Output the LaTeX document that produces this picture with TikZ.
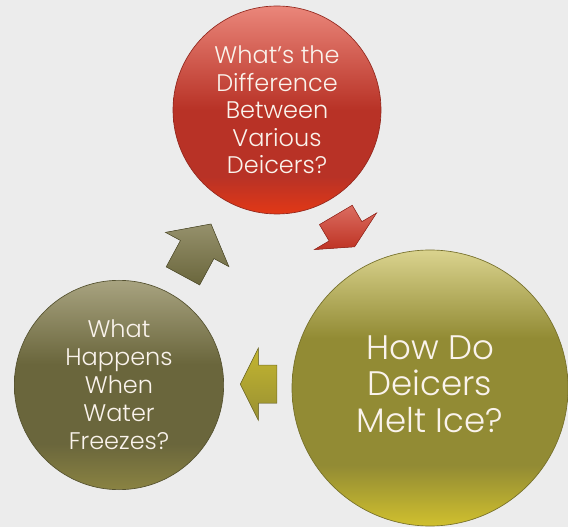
\documentclass[tikz,border=0pt]{standalone}
\usepackage{fontspec}
\IfFontExistsTF{Poppins Light}{\setmainfont{Poppins Light}}{\setmainfont{Poppins}}
\usetikzlibrary{positioning}

\definecolor{paper}{RGB}{236,236,236}
\definecolor{cream}{RGB}{250,243,236}
\definecolor{redtop}{RGB}{234,134,122}
\definecolor{redmid}{RGB}{184,50,38}
\definecolor{redbot}{RGB}{226,56,22}
\definecolor{yeltop}{RGB}{218,211,142}
\definecolor{yelmid}{RGB}{146,139,52}
\definecolor{yelbot}{RGB}{208,192,46}
\definecolor{olvtop}{RGB}{168,163,128}
\definecolor{olvmid}{RGB}{106,102,60}
\definecolor{olvbot}{RGB}{138,131,66}

% vertical shadings, bottom (25bp) to top (75bp)
\pgfdeclareverticalshading{redshade}{100bp}{color(0bp)=(redbot); color(25bp)=(redbot); color(34bp)=(redmid); color(50bp)=(redmid); color(75bp)=(redtop); color(100bp)=(redtop)}
\pgfdeclareverticalshading{yelshade}{100bp}{color(0bp)=(yelbot); color(25bp)=(yelbot); color(36bp)=(yelmid); color(59bp)=(yelmid); color(75bp)=(yeltop); color(100bp)=(yeltop)}
\pgfdeclareverticalshading{olvshade}{100bp}{color(0bp)=(olvbot); color(25bp)=(olvbot); color(36bp)=(olvmid); color(55bp)=(olvmid); color(75bp)=(olvtop); color(100bp)=(olvtop)}

% block arrow: centre of head base, angle, head length, shaft length, style
\newcommand{\cyclearrow}[5]{%
  \begin{scope}[shift={#1},rotate=#2]
    \filldraw[#5] (#3,0) -- (0,36) -- (0,19) -- (-#4,19) -- (-#4,-19) -- (0,-19) -- (0,-36) -- cycle;
  \end{scope}}

\begin{document}
\begin{tikzpicture}[
  x=0.75pt,y=-0.75pt,
  topic/.style={circle,draw,line width=0.5pt,align=center,inner sep=0pt,text=cream},
  redball/.style={topic,minimum size=156pt,draw=redmid!80!black,shading=redshade,font=\fontsize{18}{20.6}\selectfont},
  yelball/.style={topic,minimum size=207pt,draw=yelmid!80!black,shading=yelshade,text depth=6pt,font=\fontsize{25.5}{27.4}\selectfont},
  olvball/.style={topic,minimum size=157pt,draw=olvmid!80!black,shading=olvshade,font=\fontsize{18}{21}\selectfont},
  redarrow/.style={draw=redmid!85!black,line width=0.4pt,top color=redtop!70!redmid,bottom color=redmid!85!redbot},
  yelarrow/.style={draw=yelmid!80!black,line width=0.4pt,top color=yelbot!80!yelmid,bottom color=yelmid!90!yelbot},
  olvarrow/.style={draw=olvmid!80!black,line width=0.4pt,top color=olvtop!70!olvmid,bottom color=olvmid}
]
\useasboundingbox (0,0) rectangle (568,527);
\fill[paper] (0,0) rectangle (568,527);

\node[redball] (diff) at (277,110) {What’s the\\Difference\\Between\\Various\\Deicers?};
\node[yelball] (melt) at (430,388) {How Do\\Deicers\\Melt Ice?};
\node[olvball] (freeze) at (119,385) {What\\Happens\\When\\Water\\Freezes?};

\cyclearrow{(345.5,231.3)}{-59.5}{18}{19}{redarrow}
\cyclearrow{(258.3,384.2)}{180}{18}{18.5}{yelarrow}
\cyclearrow{(197.2,249.5)}{61.6}{29}{30}{olvarrow}
\end{tikzpicture}
\end{document}
